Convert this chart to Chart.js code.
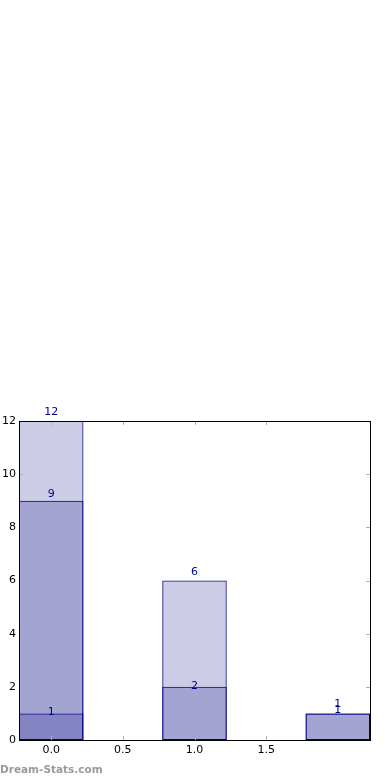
<!DOCTYPE html>
<html>
<head>
<meta charset="utf-8">
<script src="https://cdn.jsdelivr.net/npm/chart.js@4/dist/chart.umd.min.js"></script>
<style>
  html, body { margin: 0; padding: 0; background: #fff; }
  #wrap { position: relative; width: 390px; height: 780px; }
  #wm { position: absolute; left: 0; top: 763px; font: bold 10.5px "DejaVu Sans", sans-serif; color: #9a9a9a; }
</style>
</head>
<body>
<div id="wrap">
  <canvas id="c" width="390" height="780"></canvas>
  <div id="wm">Dream-Stats.com</div>
</div>
<script>
// ---- data ----
const categories = [0, 1, 2];
const seriesTotal = [12, 6, 1];
const seriesMid = [9, 2, 1];
const seriesLow = [1, null, null];
const xTickValues = [0, 0.5, 1.0, 1.5];
const yTickValues = [0, 2, 4, 6, 8, 10, 12];

// ---- styles ----
const fillColor = 'rgba(0,0,128,0.2)';
const edgeColor = '#000080';
const labelColor = '#00008b';
const labelOffsets = [[-9, -8, -9], [-7, -1, -3], [-1, 0, 0]];

const allSeries = [seriesTotal, seriesMid, seriesLow];
const datasets = allSeries.map((s, i) => ({
  data: categories.map((c, j) => ({ x: c, y: s[j] })),
  backgroundColor: fillColor,
  borderColor: edgeColor,
  borderWidth: 1,
  borderSkipped: false,
  grouped: false,
  categoryPercentage: 0.9,
  barPercentage: 1.0,
  order: allSeries.length - i
}));

const decor = {
  id: 'decor',
  afterDatasetsDraw(chart) {
    const ctx = chart.ctx;
    const xs = chart.scales.x, ys = chart.scales.y;
    const a = chart.chartArea;
    ctx.save();
    // inward tick marks
    ctx.strokeStyle = '#b0b0b0';
    ctx.lineWidth = 1;
    const tl = 4;
    xTickValues.forEach(v => {
      const px = Math.round(xs.getPixelForValue(v)) + 0.5;
      ctx.beginPath();
      ctx.moveTo(px, a.bottom); ctx.lineTo(px, a.bottom - tl);
      ctx.moveTo(px, a.top); ctx.lineTo(px, a.top + tl);
      ctx.stroke();
    });
    yTickValues.forEach(v => {
      const py = Math.round(ys.getPixelForValue(v)) + 0.5;
      ctx.beginPath();
      ctx.moveTo(a.left, py); ctx.lineTo(a.left + tl, py);
      ctx.moveTo(a.right, py); ctx.lineTo(a.right - tl, py);
      ctx.stroke();
    });
    // frame
    ctx.strokeStyle = '#000';
    ctx.lineWidth = 1;
    ctx.strokeRect(Math.round(a.left) + 0.5, Math.round(a.top) + 0.5,
                   Math.round(a.right - a.left), Math.round(a.bottom - a.top));
    // value labels
    ctx.fillStyle = labelColor;
    ctx.font = '11px "DejaVu Sans", sans-serif';
    ctx.textAlign = 'center';
    ctx.textBaseline = 'middle';
    allSeries.forEach((s, i) => {
      s.forEach((v, j) => {
        if (v === null) return;
        const px = xs.getPixelForValue(categories[j]);
        const py = ys.getPixelForValue(v) + labelOffsets[i][j];
        ctx.fillText(String(v), px, py);
      });
    });
    ctx.restore();
  }
};

new Chart(document.getElementById('c'), {
  type: 'bar',
  data: { datasets },
  options: {
    responsive: false,
    animation: false,
    layout: { padding: { top: 421, right: 20, left: 0, bottom: 0 } },
    plugins: { legend: { display: false }, tooltip: { enabled: false } },
    scales: {
      x: {
        type: 'linear',
        min: -0.225,
        max: 2.225,
        offset: false,
        grid: { display: false, drawTicks: false },
        border: { display: false },
        afterBuildTicks: s => { s.ticks = xTickValues.map(v => ({ value: v })); },
        afterFit: s => { s.height = 40; },
        ticks: {
          padding: 4,
          color: '#000',
          font: { family: 'DejaVu Sans', size: 11 },
          maxRotation: 0,
          callback: v => Number(v).toFixed(1)
        }
      },
      y: {
        min: 0,
        max: 12,
        grid: { display: false, drawTicks: false },
        border: { display: false },
        afterBuildTicks: s => { s.ticks = yTickValues.map(v => ({ value: v })); },
        afterFit: s => { s.width = 19; },
        ticks: {
          padding: 3,
          color: '#000',
          font: { family: 'DejaVu Sans', size: 11 }
        }
      }
    }
  },
  plugins: [decor]
});
</script>
</body>
</html>
